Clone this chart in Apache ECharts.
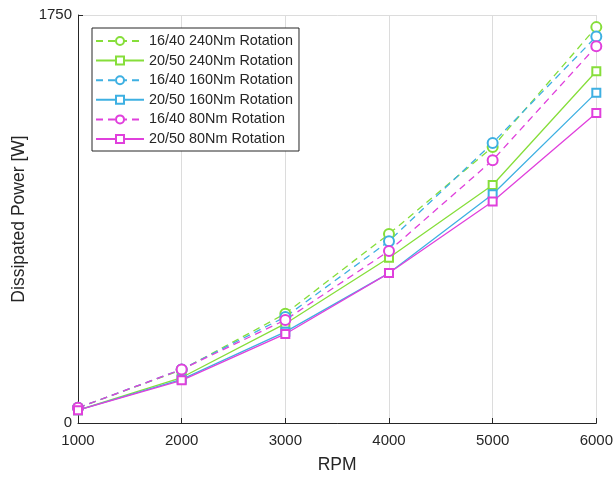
<!DOCTYPE html>
<html>
<head>
<meta charset="utf-8">
<script src="https://cdn.jsdelivr.net/npm/echarts@6/dist/echarts.min.js"></script>
<style>
html,body{margin:0;padding:0;background:#fff;}
#chart{width:616px;height:479px;}
</style>
</head>
<body>
<div id="chart"></div>
<script>
const rpm = [1000, 2000, 3000, 4000, 5000, 6000];
const seriesNames = ['16/40 240Nm Rotation','20/50 240Nm Rotation','16/40 160Nm Rotation','20/50 160Nm Rotation','16/40 80Nm Rotation','20/50 80Nm Rotation'];
const r1640_240 = [65, 228, 469, 811, 1184, 1698];
const r2050_240 = [55, 195, 426, 709, 1021, 1509];
const r1640_160 = [65, 230, 455, 780, 1201, 1658];
const r2050_160 = [55, 187, 391, 643, 981, 1417];
const r1640_80 = [65, 230, 442, 738, 1127, 1616];
const r2050_80 = [55, 183, 382, 643, 950, 1330];
const yTicks = [0, 1750];

const GREEN = '#86de3a', CYAN = '#3eb0e2', MAG = '#e040dc';
const AX = '#262626';
const FONT = '"Liberation Sans", Arial, sans-serif';

function mk(name, vals, color, dashed) {
  return {
    name: name,
    type: 'line',
    data: rpm.map((x, i) => [x, vals[i]]),
    symbol: dashed ? 'emptyCircle' : 'emptyRect',
    symbolSize: dashed ? 10 : 8,
    showAllSymbol: true,
    lineStyle: { color: color, width: 1.3, type: dashed ? [7, 5] : 'solid' },
    itemStyle: { color: color, borderColor: color, borderWidth: 1.2 },
    emphasis: { disabled: true },
    animation: false
  };
}

const chart = echarts.init(document.getElementById('chart'), null, { renderer: 'canvas' });
chart.setOption({
  animation: false,
  backgroundColor: '#fff',
  textStyle: { fontFamily: FONT },
  grid: { left: 78, right: 14, top: 15, bottom: 52, containLabel: false },
  legend: {
    orient: 'vertical',
    left: 92, top: 28,
    data: seriesNames,
    itemWidth: 48, itemHeight: 10, itemGap: 5.6,
    padding: [6, 6, 5, 3],
    borderColor: AX, borderWidth: 1,
    backgroundColor: '#fff',
    textStyle: { color: AX, fontSize: 14.4, fontFamily: FONT },
    selectedMode: false
  },
  xAxis: {
    type: 'value', min: 1000, max: 6000, interval: 1000,
    name: 'RPM', nameLocation: 'middle', nameGap: 33,
    nameTextStyle: { color: AX, fontSize: 17.5, fontFamily: FONT },
    axisLine: { show: true, onZero: false, lineStyle: { color: AX, width: 1 } },
    axisTick: { show: true, inside: true, length: 5, lineStyle: { color: AX } },
    axisLabel: { color: AX, fontSize: 15, margin: 10, fontFamily: FONT, formatter: v => String(v) },
    splitLine: { show: true, lineStyle: { color: '#dcdcdc', width: 1 } }
  },
  yAxis: {
    type: 'value', min: yTicks[0], max: yTicks[1], interval: yTicks[1] - yTicks[0],
    name: 'Dissipated Power [W]', nameLocation: 'middle', nameGap: 47,
    nameTextStyle: { color: AX, fontSize: 17.5, fontFamily: FONT },
    axisLine: { show: true, onZero: false, lineStyle: { color: AX, width: 1 } },
    axisTick: { show: true, inside: true, length: 5, lineStyle: { color: AX } },
    axisLabel: { color: AX, fontSize: 15, margin: 6, fontFamily: FONT, formatter: v => String(v) },
    splitLine: { show: true, lineStyle: { color: '#dcdcdc', width: 1 } }
  },
  series: [
    mk(seriesNames[0], r1640_240, GREEN, true),
    mk(seriesNames[1], r2050_240, GREEN, false),
    mk(seriesNames[2], r1640_160, CYAN, true),
    mk(seriesNames[3], r2050_160, CYAN, false),
    mk(seriesNames[4], r1640_80, MAG, true),
    mk(seriesNames[5], r2050_80, MAG, false)
  ]
});
</script>
</body>
</html>
